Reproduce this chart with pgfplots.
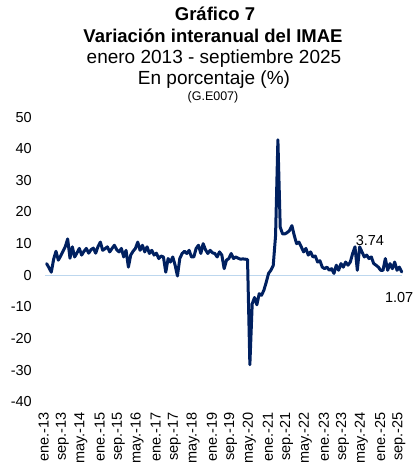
\documentclass[border=0pt]{standalone}
\usepackage{pgfplots}
\pgfplotsset{compat=1.18}
\usepackage{pgfplotstable}
\usepackage{fontspec}
\setmainfont{Liberation Sans}
\definecolor{navy}{HTML}{002060}
\definecolor{zeroblue}{HTML}{BDD7EE}
\pgfplotstableread{
i v
0 3.7
1 2.4
2 1.0
3 5.1
4 7.6
5 4.8
6 6.1
7 7.6
8 9.1
9 11.5
10 5.4
11 9.0
12 5.8
13 7.1
14 8.5
15 6.4
16 7.6
17 8.5
18 7.0
19 8.1
20 8.6
21 7.0
22 9.1
23 10.5
24 7.9
25 8.4
26 9.0
27 7.4
28 8.5
29 9.5
30 8.1
31 7.4
32 8.5
33 5.8
34 7.9
35 2.6
36 6.4
37 7.6
38 8.5
39 10.5
40 7.9
41 9.5
42 7.4
43 9.0
44 6.9
45 7.9
46 6.4
47 7.0
48 5.3
49 6.1
50 5.8
51 1.0
52 5.3
53 4.2
54 5.8
55 3.2
56 -0.2
57 5.3
58 6.9
59 7.6
60 6.9
61 7.9
62 5.8
63 5.8
64 8.5
65 9.5
66 6.9
67 10.0
68 8.1
69 6.9
70 7.9
71 7.1
72 6.9
73 5.8
74 7.4
75 6.4
76 2.1
77 4.8
78 5.3
79 6.9
80 5.3
81 5.8
82 5.4
83 5.1
84 5.2
85 5.1
86 5.0
87 -28.2
88 -9.0
89 -7.0
90 -9.3
91 -5.8
92 -6.3
93 -4.7
94 -2.2
95 0.6
96 1.6
97 3.1
98 12.5
99 42.8
100 15.2
101 13.1
102 13.1
103 13.5
104 14.2
105 15.7
106 12.6
107 10.0
108 10.5
109 9.0
110 7.4
111 8.5
112 6.4
113 7.4
114 5.8
115 6.1
116 4.2
117 4.6
118 2.6
119 2.1
120 2.6
121 1.6
122 2.1
123 0.6
124 3.2
125 1.6
126 3.7
127 2.6
128 4.2
129 3.2
130 4.2
131 6.9
132 9.0
133 1.6
134 9.0
135 7.4
136 5.8
137 6.4
138 5.3
139 5.8
140 3.74
141 3.2
142 2.6
143 1.6
144 1.6
145 5.3
146 1.6
147 3.7
148 2.1
149 4.2
150 1.6
151 2.6
152 1.07
}\imae
\begin{document}
\begin{tikzpicture}
\begin{axis}[
  at={(45bp,66bp)}, anchor=south west,
  scale only axis, width=356.7bp, height=285bp,
  xmin=-0.7, xmax=152, ymin=-40, ymax=50,
  clip=false,
  axis line style={draw=none}, tick style={draw=none},
  ytick={-40,-30,-20,-10,0,10,20,30,40,50},
  yticklabels={-40,-30,-20,-10,0,10,20,30,40,50},
  yticklabel style={font=\fontsize{14.5bp}{16bp}\selectfont, inner sep=0pt, xshift=-13bp},
  xtick={0,8,...,152},
  xticklabels={ene.-13,sep.-13,may.-14,ene.-15,sep.-15,may.-16,ene.-17,sep.-17,may.-18,ene.-19,sep.-19,may.-20,ene.-21,sep.-21,may.-22,ene.-23,sep.-23,may.-24,ene.-25,sep.-25},
  xticklabel style={font=\fontsize{14.5bp}{16bp}\selectfont, rotate=90, anchor=east, inner sep=0pt, xshift=-10bp, yshift=3bp},
]
\addplot[zeroblue, line width=1.5bp, forget plot] coordinates {(-0.7,0) (152,0)};
\addplot[navy, line width=3bp, line join=round, line cap=round] table[x=i, y=v] {\imae};
\node[anchor=base, font=\fontsize{14.5bp}{16bp}\selectfont] at (axis cs:138.4,9.5) {3.74};
\node[anchor=base, font=\fontsize{14.5bp}{16bp}\selectfont] at (axis cs:150.9,-8.5) {1.07};
\end{axis}
\node[anchor=base, font=\bfseries\fontsize{18.5bp}{20bp}\selectfont] at (215bp,447.3bp) {Gráfico 7};
\node[anchor=base, font=\bfseries\fontsize{18.5bp}{20bp}\selectfont] at (213bp,425.3bp) {Variación interanual del IMAE};
\node[anchor=base, font=\fontsize{19bp}{21bp}\selectfont] at (214bp,404bp) {enero 2013 - septiembre 2025};
\node[anchor=base, font=\fontsize{19bp}{21bp}\selectfont] at (214bp,383bp) {En porcentaje (\%)};
\node[anchor=base, font=\fontsize{12.5bp}{14bp}\selectfont] at (213bp,367bp) {(G.E007)};
\pgfresetboundingbox
\useasboundingbox (0,0) rectangle (414bp,468bp);
\end{tikzpicture}
\end{document}
